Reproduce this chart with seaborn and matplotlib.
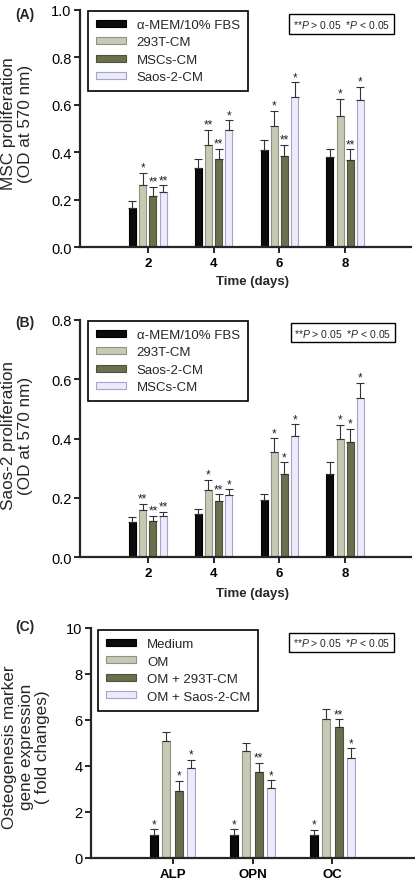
import numpy as np
import pandas as pd
import matplotlib
matplotlib.use("Agg")
import matplotlib.pyplot as plt
import seaborn as sns

# ---- data ----
days = ["2", "4", "6", "8"]

a_series = ["α-MEM/10% FBS", "293T-CM", "MSCs-CM", "Saos-2-CM"]
a_mean = [[0.163, 0.334, 0.408, 0.380],
          [0.261, 0.431, 0.510, 0.552],
          [0.214, 0.373, 0.385, 0.368],
          [0.232, 0.492, 0.631, 0.620]]
a_err = [[0.031, 0.039, 0.044, 0.035],
         [0.053, 0.063, 0.065, 0.073],
         [0.041, 0.041, 0.046, 0.045],
         [0.028, 0.042, 0.065, 0.057]]
a_stars = [["", "", "", ""],
           ["*", "**", "*", "*"],
           ["**", "**", "**", "**"],
           ["**", "*", "*", "*"]]

b_series = ["α-MEM/10% FBS", "293T-CM", "Saos-2-CM", "MSCs-CM"]
b_mean = [[0.119, 0.145, 0.192, 0.279],
          [0.160, 0.227, 0.356, 0.400],
          [0.121, 0.188, 0.280, 0.389],
          [0.137, 0.209, 0.408, 0.538]]
b_err = [[0.016, 0.016, 0.020, 0.041],
         [0.020, 0.034, 0.045, 0.046],
         [0.019, 0.023, 0.040, 0.044],
         [0.015, 0.019, 0.040, 0.050]]
b_stars = [["", "", "", ""],
           ["**", "*", "*", "*"],
           ["**", "**", "*", "*"],
           ["**", "*", "*", "*"]]

markers = ["ALP", "OPN", "OC"]
c_series = ["Medium", "OM", "OM + 293T-CM", "OM + Saos-2-CM"]
c_mean = [[1.01, 1.00, 1.00],
          [5.07, 4.64, 6.03],
          [2.93, 3.72, 5.70],
          [3.91, 3.03, 4.35]]
c_err = [[0.24, 0.25, 0.23],
         [0.39, 0.36, 0.46],
         [0.42, 0.41, 0.34],
         [0.37, 0.35, 0.43]]
c_stars = [["*", "*", "*"],
           ["", "", ""],
           ["*", "**", "**"],
           ["*", "*", "*"]]

face = ["#0b0b0b", "#c7c9b5", "#6c6f4f", "#ececf8"]
edge = ["#000000", "#8f9282", "#4f5238", "#a3a3cf"]

sns.set_style("ticks")
plt.rcParams["font.family"] = ["Liberation Sans", "DejaVu Sans"]
plt.rcParams["mathtext.fontset"] = "custom"
plt.rcParams["mathtext.rm"] = "Liberation Sans"
plt.rcParams["mathtext.it"] = "Liberation Sans:italic"
plt.rcParams["mathtext.bf"] = "Liberation Sans:bold"


def draw_panel(ax, cats, series, means, errs, stars, ymax, ystep, xlim,
               gap, legend_anchor, pbox_xy):
    rows = []
    for s, vals in zip(series, means):
        for c, v in zip(cats, vals):
            rows.append({"cat": c, "series": s, "value": v})
    df = pd.DataFrame(rows)
    sns.barplot(data=df, x="cat", y="value", hue="series", order=cats,
                hue_order=series, palette=face, width=0.62, gap=gap,
                errorbar=None, saturation=1, ax=ax, legend=False)

    bars = list(ax.containers)
    for i, cont in enumerate(bars):
        xs, tops = [], []
        for p in cont.patches:
            p.set_edgecolor(edge[i])
            p.set_linewidth(0.8)
            xs.append(p.get_x() + p.get_width() / 2)
            tops.append(p.get_height())
        e = np.array(errs[i])
        ax.errorbar(xs, tops, yerr=[np.zeros_like(e), e], fmt="none",
                    ecolor="#333333", elinewidth=0.8, capsize=2.6,
                    capthick=0.8, zorder=3)
        for x, t, err, st in zip(xs, tops, e, stars[i]):
            if st:
                ax.text(x, t + err - ymax * 0.004, st, ha="center",
                        va="bottom", fontsize=8.5, color="#222222")

    ax.set_xlim(*xlim)
    ax.set_ylim(0, ymax)
    ax.set_yticks(np.arange(0, ymax + ystep / 2, ystep))
    ax.set_xlabel("")
    ax.set_ylabel("")
    sns.despine(ax=ax)
    for sp in ("left", "bottom"):
        ax.spines[sp].set_linewidth(1.6)
    ax.tick_params(axis="both", direction="out", length=4, width=1.2,
                   colors="black")
    ax.tick_params(axis="y", labelsize=10.5, pad=2)
    ax.tick_params(axis="x", labelsize=9.5, pad=3)
    for lab in ax.get_xticklabels():
        lab.set_fontweight("bold")

    ax.legend(bars, series, loc="upper left",
              bbox_to_anchor=legend_anchor, borderaxespad=0,
              fontsize=9.5, frameon=True, fancybox=False, edgecolor="black",
              framealpha=1, handlelength=2.3, handleheight=0.45,
              labelspacing=0.42, handletextpad=0.8, borderpad=0.6)
    ax.get_legend().get_frame().set_linewidth(1.2)

    ax.text(pbox_xy[0], pbox_xy[1],
            r"**$\mathit{P}$ > 0.05  *$\mathit{P}$ < 0.05",
            transform=ax.transAxes, ha="center", va="center", fontsize=7.5,
            bbox=dict(boxstyle="square,pad=0.35", fc="white", ec="black",
                      lw=1.0))


fig = plt.figure(figsize=(4.15, 8.79), dpi=100)

ax_a = fig.add_axes([80 / 415, 1 - 248 / 879, 331 / 415, 237 / 879])
draw_panel(ax_a, days, a_series, a_mean, a_err, a_stars, 1.0, 0.2,
           (-1.03, 4.0), 0.3, (0.024, 0.996), (0.79, 0.941))
ax_a.set_xlabel("Time (days)", fontsize=9.5, fontweight="bold")
ax_a.xaxis.set_label_coords(0.52, -0.118)

ax_b = fig.add_axes([80 / 415, 1 - 558 / 879, 331 / 415, 237 / 879])
draw_panel(ax_b, days, b_series, b_mean, b_err, b_stars, 0.8, 0.2,
           (-1.03, 4.0), 0.3, (0.024, 0.996), (0.795, 0.947))
ax_b.set_xlabel("Time (days)", fontsize=9.5, fontweight="bold")
ax_b.xaxis.set_label_coords(0.52, -0.125)

ax_c = fig.add_axes([91 / 415, 1 - 859 / 879, 323 / 415, 230 / 879])
draw_panel(ax_c, markers, c_series, c_mean, c_err, c_stars, 10, 2,
           (-1.02, 3.02), 0.36, (0.022, 0.991), (0.775, 0.937))

# panel letters and y labels
for letter, y in (("(A)", 15), ("(B)", 323), ("(C)", 627)):
    fig.text(25 / 415, 1 - y / 879, letter, ha="center", va="center",
             fontsize=10, fontweight="bold")

ylab_kw = dict(rotation=90, ha="center", va="center", fontsize=12.3,
               linespacing=1.12, multialignment="center")
fig.text(17 / 415, 1 - 124 / 879, "MSC proliferation\n(OD at 570 nm)",
         **ylab_kw)
fig.text(17 / 415, 1 - 436 / 879, "Saos-2 proliferation\n(OD at 570 nm)",
         **ylab_kw)
fig.text(26 / 415, 1 - 747 / 879,
         "Osteogenesis marker\ngene expression\n( fold changes)", **ylab_kw)

fig.savefig("out.png", dpi=100)
